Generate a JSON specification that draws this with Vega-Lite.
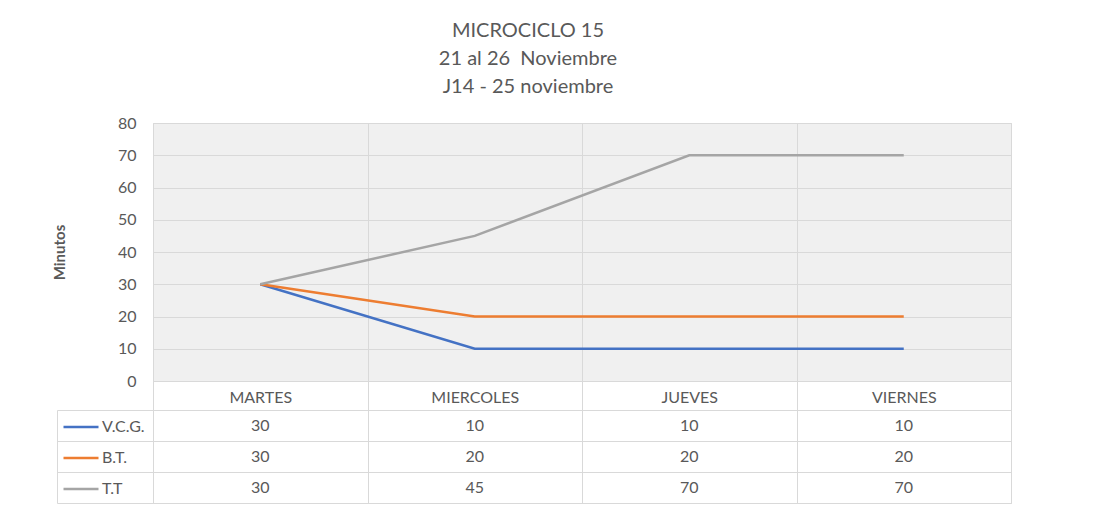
{
  "$schema": "https://vega.github.io/schema/vega-lite/v6.json",
  "padding": {"left": 51, "top": 20, "right": 10, "bottom": 5},
  "background": "white",
  "title": {
    "text": ["MICROCICLO 15", "21 al 26 \u00a0Noviembre", "J14 - 25 noviembre"],
    "fontSize": 20,
    "fontWeight": "normal",
    "color": "#595959",
    "lineHeight": 28,
    "anchor": "middle",
    "offset": 18,
    "dx": -4
  },
  "data": {
    "values": [
      {"day": "MARTES", "serie": "V.C.G.", "value": 30},
      {"day": "MIERCOLES", "serie": "V.C.G.", "value": 10},
      {"day": "JUEVES", "serie": "V.C.G.", "value": 10},
      {"day": "VIERNES", "serie": "V.C.G.", "value": 10},
      {"day": "MARTES", "serie": "B.T.", "value": 30},
      {"day": "MIERCOLES", "serie": "B.T.", "value": 20},
      {"day": "JUEVES", "serie": "B.T.", "value": 20},
      {"day": "VIERNES", "serie": "B.T.", "value": 20},
      {"day": "MARTES", "serie": "T.T", "value": 30},
      {"day": "MIERCOLES", "serie": "T.T", "value": 45},
      {"day": "JUEVES", "serie": "T.T", "value": 70},
      {"day": "VIERNES", "serie": "T.T", "value": 70}
    ]
  },
  "bounds": "flush",
  "spacing": 29,
  "vconcat": [
    {
      "width": 858,
      "height": 258,
      "view": {"stroke": "#d9d9d9", "fill": "#f0f0f0"},
      "mark": {"type": "line", "strokeWidth": 2.5},
      "encoding": {
        "x": {
          "field": "day",
          "type": "nominal",
          "sort": ["MARTES", "MIERCOLES", "JUEVES", "VIERNES"],
          "scale": {"type": "band", "paddingInner": 0, "paddingOuter": 0},
          "axis": {
            "title": null,
            "labelAngle": 0,
            "tickBand": "extent",
            "grid": true,
            "gridColor": "#d9d9d9",
            "ticks": true,
            "tickSize": 29,
            "tickColor": "#d9d9d9",
            "domain": true,
            "domainColor": "#d9d9d9",
            "labelPadding": -21,
            "labelFontSize": 16,
            "labelColor": "#595959"
          }
        },
        "y": {
          "field": "value",
          "type": "quantitative",
          "scale": {"domain": [0, 80]},
          "axis": {
            "title": "Minutos",
            "titleFontSize": 15,
            "titleFontWeight": "bold",
            "titleColor": "#595959",
            "titlePadding": 50,
            "values": [0, 10, 20, 30, 40, 50, 60, 70, 80],
            "ticks": false,
            "domain": false,
            "grid": true,
            "gridColor": "#d9d9d9",
            "labelPadding": 17,
            "labelFontSize": 16,
            "labelColor": "#595959"
          }
        },
        "color": {
          "field": "serie",
          "type": "nominal",
          "sort": ["V.C.G.", "B.T.", "T.T"],
          "scale": {"domain": ["V.C.G.", "B.T.", "T.T"], "range": ["#4472C4", "#ED7D31", "#A5A5A5"]},
          "legend": {
            "orient": "none",
            "legendX": -91,
            "legendY": 285,
            "title": null,
            "symbolType": "stroke",
            "symbolSize": 1225,
            "symbolStrokeWidth": 2.5,
            "labelFontSize": 16,
            "labelColor": "#595959",
            "labelOffset": 2,
            "rowPadding": 4
          }
        }
      }
    },
    {
      "width": 858,
      "height": 93,
      "view": {"stroke": "#d9d9d9", "fill": null},
      "mark": {"type": "text", "fontSize": 16, "color": "#595959"},
      "encoding": {
        "x": {
          "field": "day",
          "type": "nominal",
          "sort": ["MARTES", "MIERCOLES", "JUEVES", "VIERNES"],
          "scale": {"type": "band", "paddingInner": 0, "paddingOuter": 0},
          "axis": {
            "title": null,
            "labels": false,
            "ticks": false,
            "domain": false,
            "grid": true,
            "tickBand": "extent",
            "gridColor": "#d9d9d9"
          }
        },
        "y": {
          "field": "serie",
          "type": "nominal",
          "sort": ["V.C.G.", "B.T.", "T.T"],
          "scale": {"type": "band", "paddingInner": 0, "paddingOuter": 0},
          "axis": {
            "title": null,
            "labels": false,
            "offset": 96,
            "ticks": true,
            "tickSize": -96,
            "tickColor": "#d9d9d9",
            "tickBand": "extent",
            "domain": true,
            "domainColor": "#d9d9d9",
            "grid": true,
            "gridColor": "#d9d9d9"
          }
        },
        "text": {"field": "value", "type": "quantitative"}
      }
    }
  ],
  "config": {
    "font": "Lato"
  }
}
